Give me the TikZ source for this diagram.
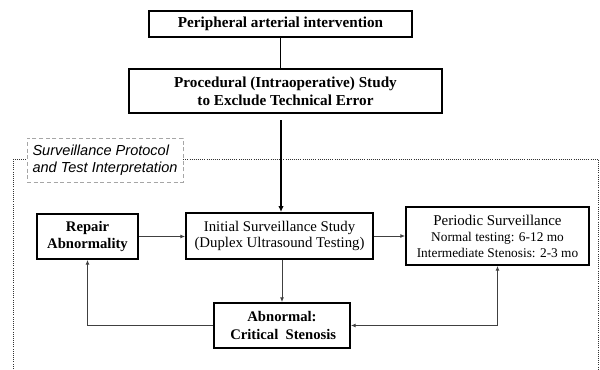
\documentclass[tikz,border=0pt]{standalone}
\usepackage{fontspec}
\setmainfont{Liberation Serif}
\newfontfamily\labelfont{Liberation Sans}
\usepackage{tikz}
\usetikzlibrary{
    arrows.meta,
    calc
}
\tikzset
{
  box/.style={draw,line width=1.4pt,align=center,inner sep=0pt,font=\fontsize{11.1}{12.5}\selectfont},
  boldbox/.style={box,font=\bfseries\fontsize{11}{13}\selectfont},
  topbox/.style={draw,line width=1.1pt,align=center,inner sep=0pt,font=\bfseries\fontsize{11.4}{13.5}\selectfont},
  tag/.style={draw=gray!70,densely dashed,line width=0.4pt,fill=white,align=left,inner sep=0pt,font=\labelfont\itshape\fontsize{10.9}{13}\selectfont},
  frame/.style={draw=black!80,densely dotted,line width=0.6pt},
  link/.style={draw=black!75,line width=0.7pt,-{Latex[length=3.5pt,width=3pt]}},
  mainlink/.style={draw=black,line width=1.2pt,-{Latex[length=4.5pt,width=4pt]}}
}

\begin{document}
\begin{tikzpicture}[x=0.75pt,y=-0.75pt]
        \useasboundingbox (0,0) rectangle (600,369);

        % Procedure
        \node[topbox,minimum width=197.25pt,minimum height=19.5pt] (interv) at (280.5,24) {Peripheral arterial intervention};
        \node[topbox,minimum width=234.75pt,minimum height=33pt] (intraop) at (285.5,91) {Procedural (Intraoperative) Study\\to Exclude Technical Error};
        \draw[line width=1pt] (interv.south) -- (interv.south |- intraop.north);

        % Surveillance frame
        \draw[frame] (13,375) -- (13,159) -- (598.5,159) -- (598.5,375);
        \node[tag,minimum width=117pt,minimum height=33pt] (protocol) at (105,160) {Surveillance Protocol\\and Test Interpretation};

        % Surveillance boxes
        \node[box,minimum width=140.25pt,minimum height=34.5pt] (initial) at (279.5,236) {Initial Surveillance Study\\(Duplex Ultrasound Testing)};
        \node[boldbox,minimum width=75.75pt,minimum height=33.75pt] (repair) at (87.5,236.5) {Repair\\Abnormality};
        \node[box,font=\fontsize{11.2}{12}\selectfont,minimum width=137.25pt,minimum height=43.5pt] (periodic) at (497.5,236) {Periodic Surveillance\\{\fontsize{10}{11.5}\selectfont Normal testing: 6-12 mo}\\{\fontsize{10}{11.5}\selectfont Intermediate Stenosis: 2-3 mo}};
        \node[boldbox,minimum width=102pt,minimum height=33.75pt] (abnormal) at (282,325.5) {Abnormal:\\\,Critical\ \ Stenosis};

        % Connectors
        \coordinate (drop) at (281,120);
        \draw[mainlink] (drop) -- (drop |- initial.north);
        \draw[link] (repair.east) -- (repair.east -| initial.west);
        \draw[link] (initial.east) -- (initial.east -| periodic.west);
        \draw[link] (initial.south -| abnormal.north) -- (abnormal.north);
        \draw[link] (abnormal.west) -| (repair.south);
        \draw[link,{Latex[length=3.5pt,width=3pt]}-{Latex[length=3.5pt,width=3pt]}] (abnormal.east) -| (periodic.south);
    \end{tikzpicture}
\end{document}
